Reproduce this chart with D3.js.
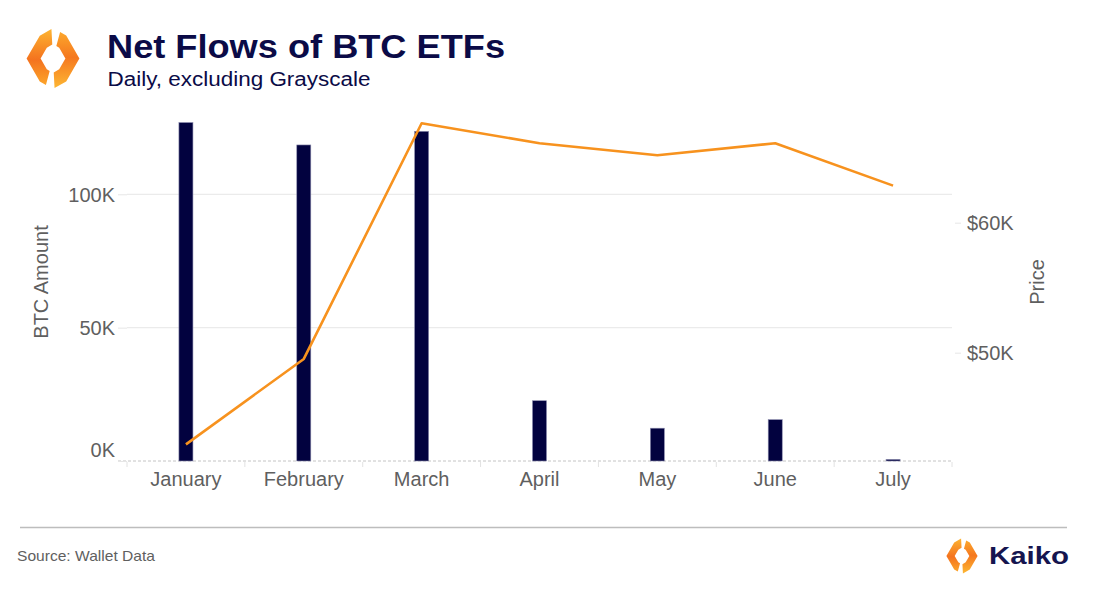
<!DOCTYPE html>
<html><head><meta charset="utf-8">
<script src="https://cdn.jsdelivr.net/npm/d3@7"></script>
<style>html,body{margin:0;padding:0;background:#fff;}svg{display:block;font-family:"Liberation Sans",Arial,Helvetica,sans-serif;}</style>
</head><body>
<svg id="chart" width="1100" height="607"></svg>
<script>
const months = ["January","February","March","April","May","June","July"];
const netFlows = [126900, 118500, 123600, 22600, 12300, 15500, 600];
const prices = [42950, 49520, 67650, 66110, 65190, 66110, 62850];
const flowTicks = [0, 50000, 100000];
const priceTicks = [50000, 60000];

const svg = d3.select("#chart");
const navy = "#0b0b47";
const grey = "#5f5f5f";

// logo
const defs = svg.append("defs");
function grad(id, stops){
  const g = defs.append("linearGradient").attr("id", id).attr("x1",0).attr("y1",0).attr("x2",0).attr("y2",1);
  stops.forEach(s => g.append("stop").attr("offset", s[0]).attr("stop-color", s[1]));
}
grad("lgL", [[0,"#FDB431"],[0.55,"#F4731F"],[1,"#FCA42A"]]);
grad("lgR", [[0,"#FCA72C"],[0.45,"#F5781F"],[1,"#FDB733"]]);
function hexR(R, th){
  const a = R*Math.cos(Math.PI/6);
  const deg = th*180/Math.PI;
  const n = Math.round(deg/60)*60;
  return a/Math.cos((deg-n)*Math.PI/180);
}
function piece(cx, cy, R, r, a0, a1){
  const angs = [a0];
  for(let v=-270; v<=720; v+=60){ const vv = v+90; if(vv>a0 && vv<a1) angs.push(vv); }
  angs.push(a1);
  angs.sort((x,y)=>x-y);
  const pt = (rad, d) => { const t=d*Math.PI/180; const rr = hexR(rad, t); return [cx+rr*Math.cos(t), cy-rr*Math.sin(t)]; };
  const outer = angs.map(d=>pt(R,d));
  const inner = angs.slice().reverse().map(d=>pt(r,d));
  return "M"+outer.concat(inner).map(p=>p[0].toFixed(2)+","+p[1].toFixed(2)).join("L")+"Z";
}
function drawLogo(cx, cy, R){
  const r = R*0.47;
  svg.append("path").attr("d", piece(cx,cy,R,r,93,255)).attr("fill","url(#lgL)");
  svg.append("path").attr("d", piece(cx,cy,R,r,273,435)).attr("fill","url(#lgR)");
}
drawLogo(53, 58.5, 30.5);
drawLogo(962, 556, 18);

// titles
svg.append("text").attr("x",107).attr("y",57.5).attr("font-size",34).attr("font-weight","bold")
  .attr("fill",navy).attr("textLength",398).attr("lengthAdjust","spacingAndGlyphs").text("Net Flows of BTC ETFs");
svg.append("text").attr("x",107.5).attr("y",86).attr("font-size",20).attr("fill",navy)
  .attr("textLength",263).attr("lengthAdjust","spacingAndGlyphs").text("Daily, excluding Grayscale");

// scales
const x = d3.scaleBand().domain(months).range([127,952]).paddingInner(0.881).paddingOuter(0.4405);
const y = d3.scaleLinear().domain([0,130480]).range([461,113]);
const yP = d3.scaleLinear().domain([41669,68438]).range([461,113]);

// gridlines
svg.append("g").selectAll("line").data(flowTicks.filter(d=>d>0)).join("line")
  .attr("x1",127).attr("x2",952).attr("y1",d=>y(d)).attr("y2",d=>y(d))
  .attr("stroke","#ebebeb").attr("stroke-width",1.2);

// baseline
svg.append("line").attr("x1",118).attr("x2",952).attr("y1",y(0)).attr("y2",y(0))
  .attr("stroke","#c4c4c4").attr("stroke-dasharray","3,2").attr("stroke-width",1);

// band boundary ticks
const edges = months.map(m=>x(m)-(x.step()-x.bandwidth())/2).concat([952]);
svg.append("g").selectAll("line").data(edges).join("line")
  .attr("x1",d=>d).attr("x2",d=>d).attr("y1",462).attr("y2",467)
  .attr("stroke","#e2e2e2").attr("stroke-width",1);

// left axis
const gL = svg.append("g").attr("transform","translate(127,0)")
  .call(d3.axisLeft(y).tickValues(flowTicks).tickFormat(d=>(d/1000)+"K").tickSize(9).tickPadding(3));
gL.select(".domain").remove();
gL.selectAll(".tick line").attr("stroke","#e6e6e6");
gL.selectAll(".tick text").attr("font-size",20).attr("fill",grey).attr("font-family","Liberation Sans, Arial, sans-serif")
  .attr("dy", d => d===0 ? "-0.25em" : "0.35em");

// right axis
const gR = svg.append("g").attr("transform","translate(955,0)")
  .call(d3.axisRight(yP).tickValues(priceTicks).tickFormat(d=>"$"+(d/1000)+"K").tickSize(6).tickPadding(6));
gR.select(".domain").remove();
gR.selectAll(".tick line").attr("stroke","#e6e6e6");
gR.selectAll(".tick text").attr("font-size",20).attr("fill",grey).attr("font-family","Liberation Sans, Arial, sans-serif");

// bottom axis
const gB = svg.append("g").attr("transform","translate(0,461)")
  .call(d3.axisBottom(x).tickSize(0).tickPadding(11));
gB.select(".domain").remove();
gB.selectAll(".tick text").attr("font-size",20).attr("fill",grey).attr("font-family","Liberation Sans, Arial, sans-serif");

// axis titles
svg.append("text").attr("transform","translate(48,282) rotate(-90)").attr("text-anchor","middle")
  .attr("font-size",20).attr("fill",grey).text("BTC Amount");
svg.append("text").attr("transform","translate(1044,282) rotate(-90)").attr("text-anchor","middle")
  .attr("font-size",20).attr("fill",grey).text("Price");

// bars
svg.append("g").selectAll("rect").data(months).join("rect")
  .attr("x",(m)=>x(m)).attr("width",x.bandwidth())
  .attr("y",(m,i)=>y(netFlows[i])).attr("height",(m,i)=>y(0)-y(netFlows[i]))
  .attr("fill","#02023f").attr("stroke","#8c8cae").attr("stroke-width",0.6);

// price line
const line = d3.line().x((d,i)=>x(months[i])+x.bandwidth()/2).y(d=>yP(d));
svg.append("path").datum(prices).attr("d",line).attr("fill","none")
  .attr("stroke","#F7921E").attr("stroke-width",2.6).attr("stroke-linejoin","round");

// footer
svg.append("line").attr("x1",20).attr("x2",1067).attr("y1",527.5).attr("y2",527.5)
  .attr("stroke","#bdbdbd").attr("stroke-width",1.5);
svg.append("text").attr("x",17).attr("y",561).attr("font-size",15).attr("fill",grey)
  .attr("textLength",138).attr("lengthAdjust","spacingAndGlyphs").text("Source: Wallet Data");
svg.append("text").attr("x",989).attr("y",564).attr("font-size",23).attr("font-weight","bold").attr("fill","#15154f")
  .attr("textLength",80).attr("lengthAdjust","spacingAndGlyphs").text("Kaiko");
</script>
</body></html>
